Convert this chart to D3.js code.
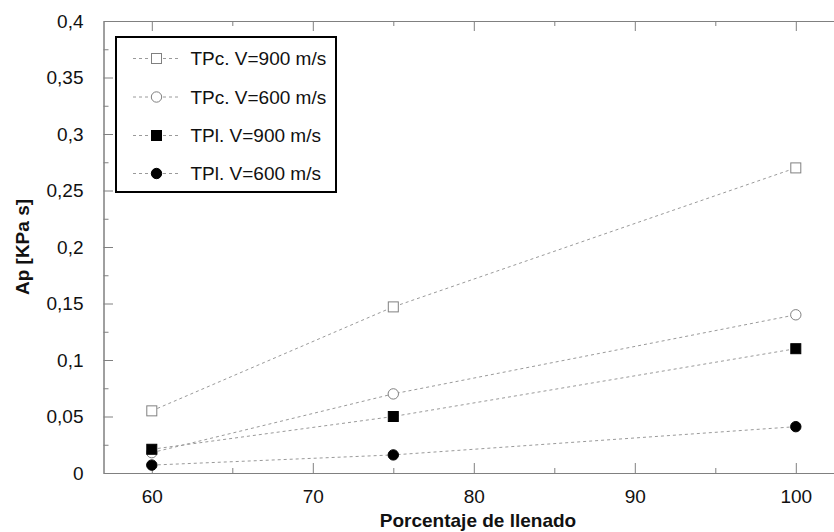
<!DOCTYPE html>
<html>
<head>
<meta charset="utf-8">
<script src="https://cdn.jsdelivr.net/npm/d3@7"></script>
<style>
  body { margin: 0; background: #fff; }
  svg { display: block; font-family: "Liberation Sans", Arial, sans-serif; }
</style>
</head>
<body>
<div id="chart"></div>
<script>
// data
let xValues = [60, 75, 100];
let tpc900 = [0.055, 0.147, 0.27];
let tpc600 = [0.018, 0.07, 0.14];
let tpl900 = [0.021, 0.05, 0.11];
let tpl600 = [0.007, 0.016, 0.041];
let seriesNames = ["TPc. V=900 m/s", "TPc. V=600 m/s", "TPl. V=900 m/s", "TPl. V=600 m/s"];
let xTicks = [60, 70, 80, 90, 100];
let xTickLabels = ["60", "70", "80", "90", "100"];
let yTicks = [0, 0.05, 0.1, 0.15, 0.2, 0.25, 0.3, 0.35, 0.4];
let yTickLabels = ["0", "0,05", "0,1", "0,15", "0,2", "0,25", "0,3", "0,35", "0,4"];

//define positional parameters
let svgWidth = 834;
let svgHeight = 532;
let plotLeft = 103.5;
let plotTop = 21;
let plotBottom = 473;
let axisColor = "#808080";
let lineColor = "#9a9a9a";

let svg = d3.select("#chart")
  .append("svg")
  .attr("width", svgWidth)
  .attr("height", svgHeight);

let xScale = d3.scaleLinear().domain([57, 103]).range([plotLeft, plotLeft + 46 * 16.1]);
let yScale = d3.scaleLinear().domain([0, 0.4]).range([plotBottom, plotTop]);

//minor ticks
let xMinor = d3.range(65, 103, 10);
let yMinor = d3.range(0.025, 0.4, 0.05);

svg.append("g")
  .attr("transform", `translate(0,${plotBottom})`)
  .call(d3.axisBottom(xScale).tickValues(xMinor).tickFormat("").tickSizeInner(-5).tickSizeOuter(0));
svg.append("g")
  .attr("transform", `translate(0,${plotTop})`)
  .call(d3.axisTop(xScale).tickValues(xMinor).tickFormat("").tickSizeInner(-5).tickSizeOuter(0));
svg.append("g")
  .attr("transform", `translate(${plotLeft},0)`)
  .call(d3.axisLeft(yScale).tickValues(yMinor).tickFormat("").tickSizeInner(-5).tickSizeOuter(0));

//major ticks
svg.append("g")
  .attr("class", "axis")
  .attr("transform", `translate(0,${plotBottom})`)
  .call(d3.axisBottom(xScale).tickValues(xTicks)
    .tickFormat((d, i) => xTickLabels[i])
    .tickSizeInner(-10).tickSizeOuter(0).tickPadding(16.5));
svg.append("g")
  .attr("transform", `translate(0,${plotTop})`)
  .call(d3.axisTop(xScale).tickValues(xTicks).tickFormat("").tickSizeInner(-10).tickSizeOuter(0));
svg.append("g")
  .attr("class", "axis")
  .attr("transform", `translate(${plotLeft},0)`)
  .call(d3.axisLeft(yScale).tickValues(yTicks)
    .tickFormat((d, i) => yTickLabels[i])
    .tickSizeInner(-9.5).tickSizeOuter(0).tickPadding(20));

svg.selectAll("path.domain").attr("stroke", axisColor);
svg.selectAll(".tick line").attr("stroke", axisColor);
svg.selectAll(".axis text")
  .attr("font-family", "Liberation Sans, Arial, sans-serif")
  .attr("font-size", 19)
  .attr("fill", "#111");

//axis titles
svg.append("text")
  .attr("x", 478)
  .attr("y", 527)
  .attr("text-anchor", "middle")
  .attr("font-size", 19)
  .attr("font-weight", "bold")
  .attr("fill", "#111")
  .text("Porcentaje de llenado");

svg.append("text")
  .attr("transform", "translate(29,247) rotate(-90)")
  .attr("text-anchor", "middle")
  .attr("font-size", 19)
  .attr("font-weight", "bold")
  .attr("fill", "#111")
  .text("Ap [KPa s]");

//series
let allSeries = [tpc900, tpc600, tpl900, tpl600];
let markerType = ["square", "circle", "square", "circle"];
let markerFill = ["#fff", "#fff", "#000", "#000"];
let markerStroke = [axisColor, axisColor, "#000", "#000"];

let line = d3.line()
  .x((d, i) => xScale(xValues[i]))
  .y(d => yScale(d));

allSeries.forEach(s => {
  svg.append("path")
    .datum(s)
    .attr("fill", "none")
    .attr("stroke", lineColor)
    .attr("stroke-width", 1)
    .attr("stroke-dasharray", "3,3")
    .attr("d", line);
});

function drawMarker(g, type, cx, cy, fill, stroke) {
  if (type === "square") {
    g.append("rect")
      .attr("x", cx - 5).attr("y", cy - 5)
      .attr("width", 10).attr("height", 10)
      .attr("fill", fill).attr("stroke", stroke).attr("stroke-width", 1);
  } else {
    g.append("circle")
      .attr("cx", cx).attr("cy", cy).attr("r", 5.2)
      .attr("fill", fill).attr("stroke", stroke).attr("stroke-width", 1);
  }
}

allSeries.forEach((s, k) => {
  let g = svg.append("g");
  s.forEach((v, i) => {
    drawMarker(g, markerType[k], xScale(xValues[i]), yScale(v), markerFill[k], markerStroke[k]);
  });
});

//legend
let legend = svg.append("g");
legend.append("rect")
  .attr("x", 116).attr("y", 37)
  .attr("width", 220).attr("height", 155)
  .attr("fill", "#fff")
  .attr("stroke", "#000")
  .attr("stroke-width", 2);

let rowY = [58.5, 97, 135.5, 173.5];
seriesNames.forEach((name, k) => {
  legend.append("line")
    .attr("x1", 133).attr("x2", 180)
    .attr("y1", rowY[k]).attr("y2", rowY[k])
    .attr("stroke", lineColor)
    .attr("stroke-dasharray", "3,3");
  drawMarker(legend, markerType[k], 156.5, rowY[k], markerFill[k], markerStroke[k]);
  legend.append("text")
    .attr("x", 190.5)
    .attr("y", rowY[k] + 6.8)
    .attr("font-size", 19)
    .attr("fill", "#111")
    .text(name);
});
</script>
</body>
</html>
